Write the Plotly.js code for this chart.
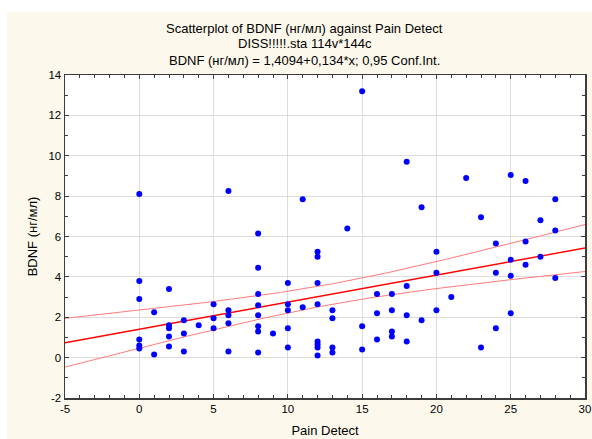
<!DOCTYPE html>
<html>
<head>
<meta charset="utf-8">
<script src="https://cdn.plot.ly/plotly-3.0.1.min.js"></script>
<style>
  html, body { margin: 0; padding: 0; background: #ffffff; width: 592px; height: 439px; overflow: hidden; }
  #chart { position: absolute; left: 7px; top: 12px; width: 585px; height: 427px; }
</style>
</head>
<body>
<div id="chart"></div>
<script>
// Pain Detect score for each case
const painDetect = [
  0, 0, 0, 0, 0, 0,
  1, 1,
  2, 2, 2, 2, 2,
  3, 3, 3,
  4,
  5, 5, 5,
  6, 6, 6, 6, 6,
  8, 8, 8, 8, 8, 8, 8, 8,
  9,
  10, 10, 10, 10, 10,
  11, 11,
  12, 12, 12, 12, 12, 12, 12, 12,
  13, 13, 13, 13,
  14,
  15, 15, 15,
  16, 16, 16,
  17, 17, 17, 17,
  18, 18, 18, 18,
  19, 19,
  20, 20, 20,
  21,
  22,
  23, 23,
  24, 24, 24,
  25, 25, 25, 25,
  26, 26, 26,
  27, 27,
  28, 28, 28
];

// BDNF (нг/мл) for each case, same order
const bdnf = [
  8.1, 3.8, 2.9, 0.9, 0.6, 0.45,
  2.25, 0.15,
  3.4, 1.6, 1.45, 1.05, 0.55,
  1.85, 1.2, 0.3,
  1.6,
  2.65, 1.95, 1.45,
  8.25, 2.35, 2.1, 1.7, 0.3,
  6.15, 4.45, 3.15, 2.6, 2.1, 1.55, 1.3, 0.25,
  1.2,
  3.7, 2.65, 2.35, 1.45, 0.5,
  7.85, 2.5,
  5.25, 5.0, 3.7, 2.65, 0.8, 0.65, 0.5, 0.1,
  2.35, 1.95, 0.5, 0.25,
  6.4,
  13.2, 1.55, 0.4,
  3.15, 2.2, 0.9,
  3.15, 2.35, 1.3, 1.05,
  9.7, 3.55, 2.1, 0.8,
  7.45, 1.85,
  5.25, 4.2, 2.35,
  3.0,
  8.9,
  6.95, 0.5,
  5.65, 4.2, 1.45,
  9.05, 4.85, 4.05, 2.2,
  8.75, 5.75, 4.6,
  6.8, 5.0,
  7.85, 6.3, 3.95
];

// Axis tick positions and their labels (plain hyphen for negatives)
const xTickVals = [-5, 0, 5, 10, 15, 20, 25, 30];
const xTickText = ['-5', '0', '5', '10', '15', '20', '25', '30'];
const yTickVals = [-2, 0, 2, 4, 6, 8, 10, 12, 14];
const yTickText = ['-2', '0', '2', '4', '6', '8', '10', '12', '14'];

// Fitted line: BDNF = 1,4094 + 0,134 * x
const intercept = 1.4094;
const slope = 0.134;
const tCrit = 1.987;          // two-sided 95% t quantile, df ≈ 90
const xRange = [-5, 30];
const yRange = [-2, 14];

const titleLines = [
  'Scatterplot of BDNF (нг/мл) against Pain Detect',
  'DISS!!!!!.sta 114v*144c',
  'BDNF (нг/мл) = 1,4094+0,134*x; 0,95 Conf.Int.'
];

// Confidence band for the mean response around the fitted line
const n = painDetect.length;
const xMean = painDetect.reduce((a, b) => a + b, 0) / n;
const sxx = painDetect.reduce((a, x) => a + (x - xMean) * (x - xMean), 0);
const sse = painDetect.reduce((a, x, i) => {
  const r = bdnf[i] - (intercept + slope * x);
  return a + r * r;
}, 0);
const sErr = Math.sqrt(sse / (n - 2));

const lineX = [];
for (let x = xRange[0]; x <= xRange[1] + 1e-9; x += 0.25) lineX.push(x);
const fitY = lineX.map(x => intercept + slope * x);
const halfW = lineX.map(x => tCrit * sErr * Math.sqrt(1 / n + (x - xMean) * (x - xMean) / sxx));
const upperY = fitY.map((y, i) => y + halfW[i]);
const lowerY = fitY.map((y, i) => y - halfW[i]);

const FONT = 'Liberation Sans, Arial, sans-serif';

const traces = [
  { x: lineX, y: upperY, mode: 'lines', line: { color: '#ff7b7b', width: 1 }, hoverinfo: 'skip' },
  { x: lineX, y: lowerY, mode: 'lines', line: { color: '#ff7b7b', width: 1 }, hoverinfo: 'skip' },
  { x: lineX, y: fitY, mode: 'lines', line: { color: '#ff0000', width: 1.4 }, hoverinfo: 'skip' },
  {
    x: painDetect, y: bdnf, mode: 'markers',
    marker: { color: '#0000ff', size: 6, line: { width: 0 } }
  }
];

const axisCommon = {
  showline: true, linecolor: '#3c3c3c', linewidth: 1.5,
  mirror: 'allticks', ticks: 'inside', ticklen: 4, tickwidth: 1, tickcolor: '#3c3c3c',
  showgrid: true, gridcolor: '#dcdcdc', gridwidth: 1,
  zeroline: false, tickfont: { family: FONT, size: 11.5, color: '#000' }
};

const layout = {
  width: 585, height: 427,
  margin: { l: 58, r: 7, t: 63, b: 41 },
  paper_bgcolor: '#fdf8ec',
  plot_bgcolor: '#ffffff',
  showlegend: false,
  xaxis: Object.assign({}, axisCommon, {
    range: xRange, tickmode: 'array', tickvals: xTickVals, ticktext: xTickText,
    minor: { tickmode: 'linear', tick0: 0, dtick: 1, ticks: 'inside', ticklen: 3, tickcolor: '#3c3c3c', showgrid: false },
    title: { text: 'Pain Detect', font: { family: FONT, size: 13, color: '#000' }, standoff: 11 }
  }),
  yaxis: Object.assign({}, axisCommon, {
    range: yRange, tickmode: 'array', tickvals: yTickVals, ticktext: yTickText,
    minor: { tickmode: 'linear', tick0: 0, dtick: 1, ticks: 'inside', ticklen: 3, tickcolor: '#3c3c3c', showgrid: false },
    title: { text: 'BDNF (нг/мл)', font: { family: FONT, size: 13, color: '#000' }, standoff: 8 }
  }),
  annotations: titleLines.map((t, i) => ({
    text: t, xref: 'paper', yref: 'paper',
    x: 0.4615, y: [1.1455, 1.096, 1.0464][i],
    xanchor: 'center', yanchor: 'middle', showarrow: false,
    font: { family: FONT, size: 13, color: '#000' }
  }))
};

Plotly.newPlot('chart', traces, layout, { displayModeBar: false, staticPlot: true });
</script>
</body>
</html>
